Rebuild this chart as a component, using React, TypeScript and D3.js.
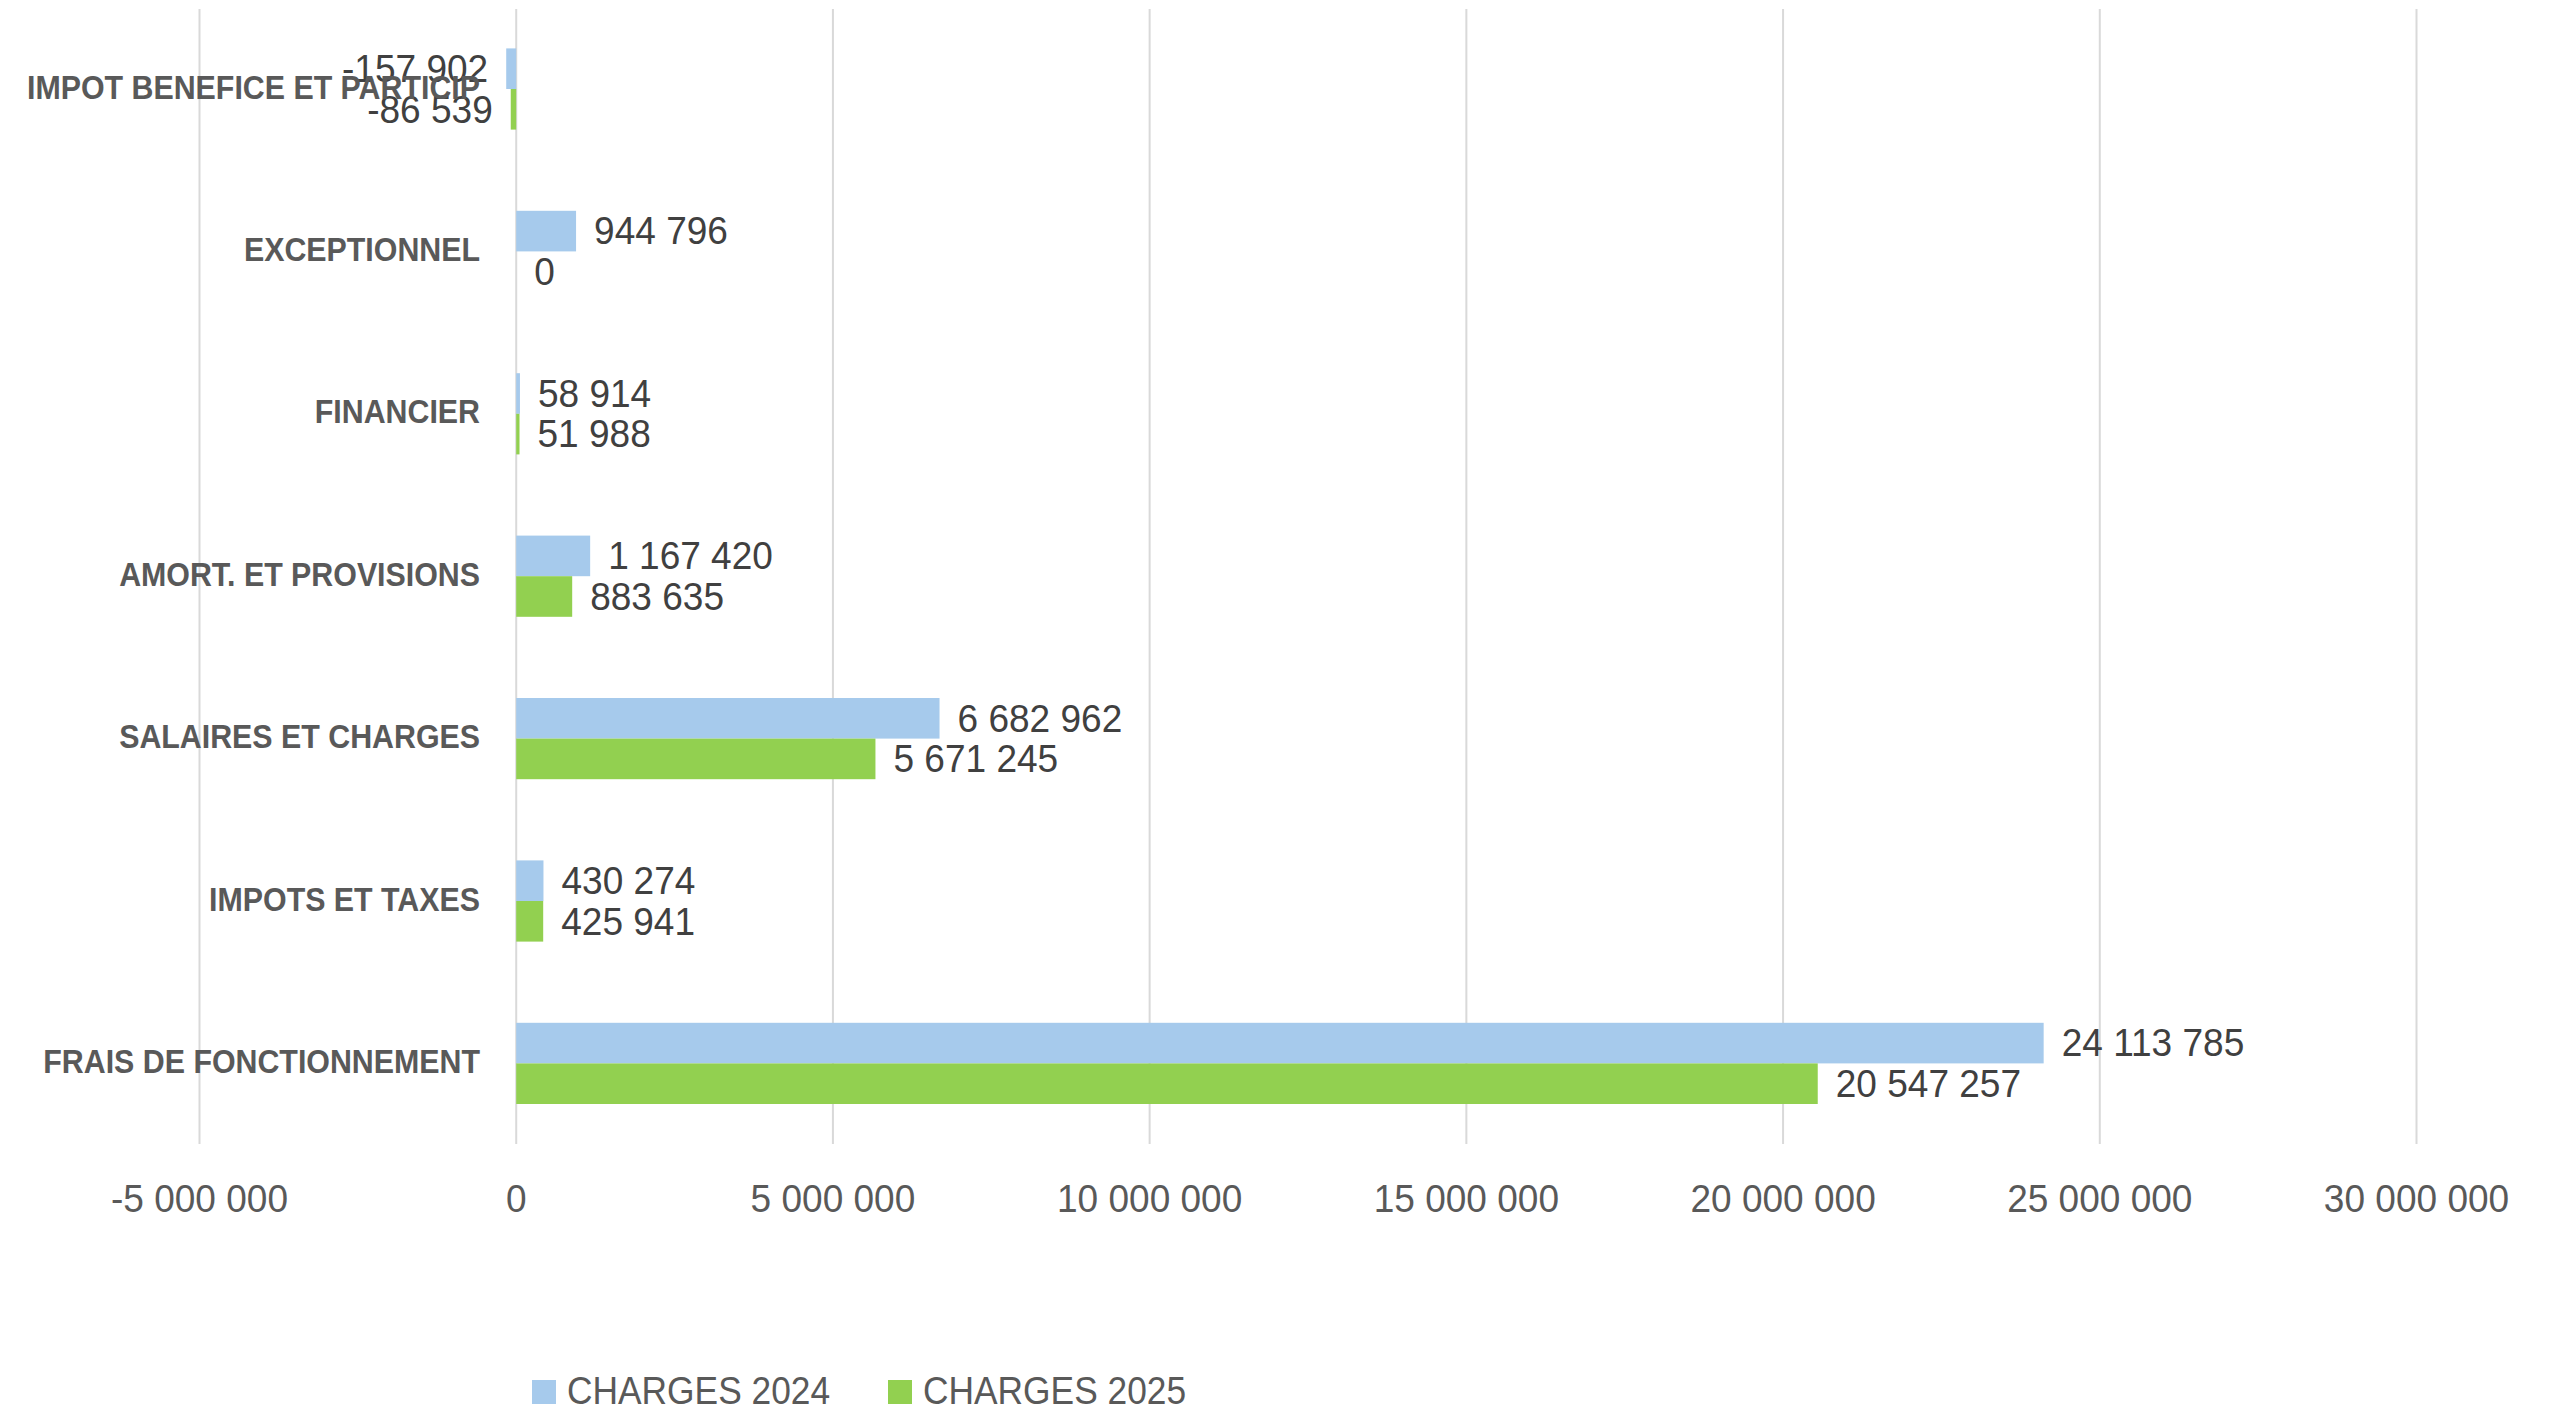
import React from "react";
import * as d3 from "d3";

const categories = [
  "IMPOT BENEFICE ET PARTICIP",
  "EXCEPTIONNEL",
  "FINANCIER",
  "AMORT. ET PROVISIONS",
  "SALAIRES ET CHARGES",
  "IMPOTS ET TAXES",
  "FRAIS DE FONCTIONNEMENT",
];
const charges2024 = [-157902, 944796, 58914, 1167420, 6682962, 430274, 24113785];
const charges2025 = [-86539, 0, 51988, 883635, 5671245, 425941, 20547257];
const seriesNames = ["CHARGES 2024", "CHARGES 2025"];
const seriesColors = ["#A6CAEC", "#92D050"];
const xTicks = [-5000000, 0, 5000000, 10000000, 15000000, 20000000, 25000000, 30000000];

const W = 2555;
const H = 1408;
const FONT = "'Liberation Sans', Arial, sans-serif";
const NUM_SIZE = 39;
const NUM_SX = 0.95;

const fmt = (v: number) => {
  const s = Math.abs(Math.round(v)).toString().replace(/\B(?=(\d{3})+(?!\d))/g, " ");
  return (v < 0 ? "-" : "") + s;
};

export default function App() {
  const x = d3.scaleLinear().domain([-5000000, 30000000]).range([199.5, 2416.5]);
  const y = d3.scaleBand().domain(categories).range([7.8, 1144.6]).paddingInner(0).paddingOuter(0);
  const bw = y.bandwidth();
  const groupH = bw * 0.5;
  const sub = d3.scaleBand().domain(seriesNames).range([0, groupH]).padding(0);
  const series = [charges2024, charges2025];

  return (
    <div style={{ position: "absolute", left: 0, top: 0 }}>
      <svg width={W} height={H} style={{ display: "block", background: "#fff" }}>
        {xTicks.map((t) => (
          <line key={t} x1={x(t)} x2={x(t)} y1={9} y2={1144} stroke="#D9D9D9" strokeWidth={2} />
        ))}
        {xTicks.map((t) => (
          <text key={"l" + t} transform={`translate(${x(t)},1199) scale(${NUM_SX},1)`} textAnchor="middle" dominantBaseline="central"
            fontFamily={FONT} fontSize={NUM_SIZE} fill="#595959">{fmt(t)}</text>
        ))}
        {categories.map((c, i) => {
          const y0 = (y(c) as number) + (bw - groupH) / 2;
          return (
            <g key={c}>
              {series.map((vals, s) => {
                const v = vals[i];
                const by = y0 + (sub(seriesNames[s]) as number);
                const x0 = x(Math.min(0, v));
                const x1 = x(Math.max(0, v));
                const cy = by + sub.bandwidth() / 2;
                const lx = v < 0 ? x0 - 18 : x1 + 18;
                return (
                  <g key={s}>
                    <rect x={x0} y={by} width={Math.max(0, x1 - x0)} height={sub.bandwidth()} fill={seriesColors[s]} />
                    <text transform={`translate(${lx},${cy}) scale(${NUM_SX},1)`} textAnchor={v < 0 ? "end" : "start"}
                      dominantBaseline="central" fontFamily={FONT} fontSize={NUM_SIZE} fill="#404040">{fmt(v)}</text>
                  </g>
                );
              })}
              <text transform={`translate(480,${(y(c) as number) + bw / 2 - 2}) scale(0.893,1)`} textAnchor="end" dominantBaseline="central"
                fontFamily={FONT} fontSize={34} fontWeight="bold" fill="#595959">{c}</text>
            </g>
          );
        })}
        {seriesNames.map((n, s) => {
          const lx = [532, 888][s];
          return (
            <g key={n}>
              <rect x={lx} y={1380} width={24} height={24} fill={seriesColors[s]} />
              <text transform={`translate(${lx + 35},1391) scale(0.93,1)`} dominantBaseline="central" fontFamily={FONT} fontSize={38} fill="#595959">{n}</text>
            </g>
          );
        })}
      </svg>
    </div>
  );
}
